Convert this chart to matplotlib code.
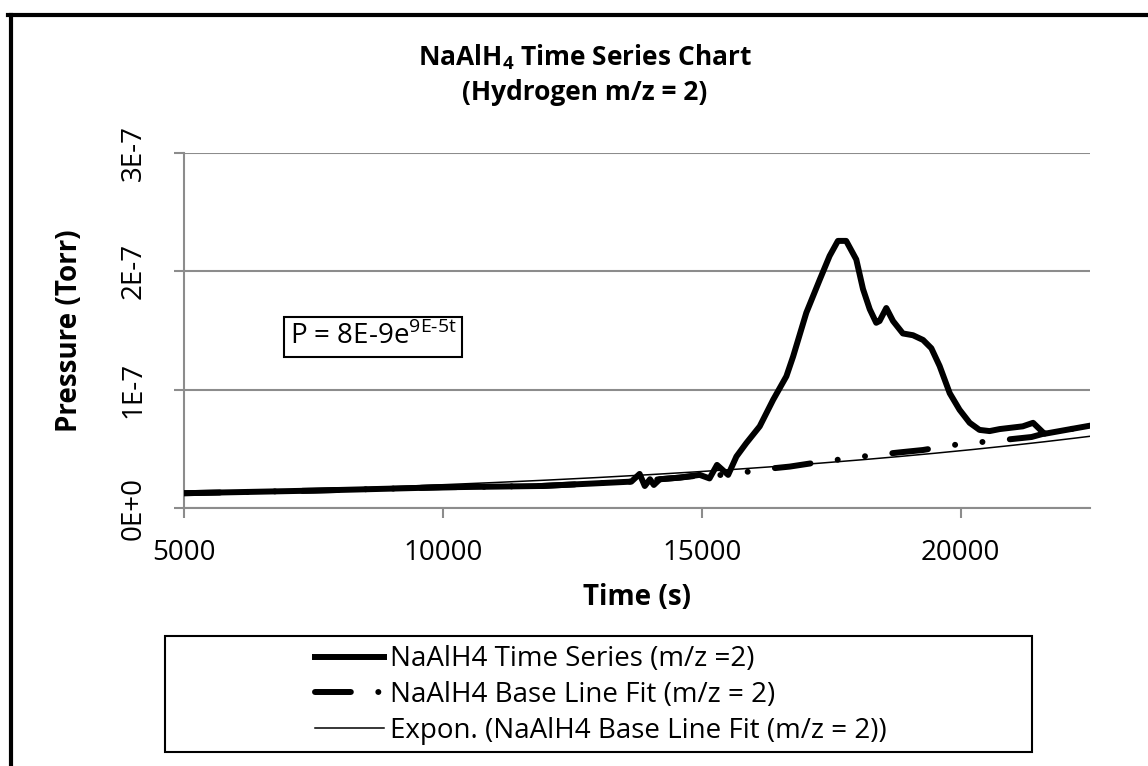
import numpy as np
import matplotlib.pyplot as plt
from matplotlib.lines import Line2D
from matplotlib.patches import Rectangle

plt.rcParams['font.family'] = ['Open Sans', 'DejaVu Sans']

# time series (s, Torr)
ts_time = [5000, 7500, 10000, 11900, 12800, 13640, 13800, 13900, 14000, 14075,
           14190, 14575, 14960, 15150, 15295, 15510, 15670, 15860, 16120, 16380,
           16635, 16765, 17020, 17280, 17470, 17630, 17790, 17985, 18115, 18245,
           18370, 18435, 18565, 18695, 18885, 19080, 19275, 19435, 19595, 19790,
           19980, 20175, 20365, 20560, 20755, 21200, 21400, 21620, 22040, 22555]
ts_pressure = np.array([0.125, 0.147, 0.175, 0.186, 0.205, 0.223, 0.288, 0.186, 0.243, 0.195,
                        0.243, 0.257, 0.280, 0.250, 0.364, 0.280, 0.435, 0.548, 0.690, 0.915,
                        1.113, 1.280, 1.650, 1.930, 2.130, 2.257, 2.257, 2.100, 1.850, 1.680,
                        1.565, 1.580, 1.690, 1.580, 1.475, 1.460, 1.420, 1.350, 1.200, 0.970,
                        0.830, 0.720, 0.660, 0.650, 0.667, 0.690, 0.720, 0.627, 0.660, 0.700]) * 1e-7

# base line (peak removed)
base_time = [5000, 7500, 10000, 11900, 12800, 13640, 14575, 14960, 15480, 16250,
             16700, 17150, 18000, 18400, 18820, 19270, 20120, 20500, 21370, 21620,
             22040, 22555]
base_pressure = np.array([0.125, 0.147, 0.175, 0.186, 0.205, 0.223, 0.257, 0.275, 0.280, 0.330,
                          0.350, 0.380, 0.430, 0.450, 0.470, 0.490, 0.550, 0.560, 0.600, 0.630,
                          0.660, 0.700]) * 1e-7

# exponential trendline shown on the chart: P = 8E-9 e^(9E-5 t)
fit_a = 8e-9
fit_k = 9e-5

x_ticks = [5000, 10000, 15000, 20000]
y_ticks = [0, 1e-7, 2e-7, 3e-7]
y_tick_labels = ['0E+0', '1E-7', '2E-7', '3E-7']

fig = plt.figure(figsize=(11.48, 7.66), dpi=100)
ax = fig.add_axes([0.1603, 0.3368, 0.7892, 0.4635])

grey = '#8c8c8c'

ax.plot(ts_time, ts_pressure, color='black', lw=4.3, solid_joinstyle='round',
        label='NaAlH4 Time Series (m/z =2)', zorder=3)
ax.plot(base_time, base_pressure, color='black', lw=4.3, dash_capstyle='round',
        linestyle=(0, (6.0, 4.6, 0.01, 4.6, 0.01, 4.6)),
        label='NaAlH4 Base Line Fit (m/z = 2)', zorder=3)
t_fit = np.linspace(5000, 22500, 200)
ax.plot(t_fit, fit_a * np.exp(fit_k * t_fit), color='black', lw=1.1,
        label='Expon. (NaAlH4 Base Line Fit (m/z = 2))', zorder=4)

ax.set_xlim(5000, 22500)
ax.set_ylim(0, 3e-7)
ax.set_xticks(x_ticks)
ax.set_xticklabels([str(v) for v in x_ticks])
ax.set_yticks(y_ticks)
ax.set_yticklabels(y_tick_labels, rotation=90, va='center')
ax.tick_params(axis='both', direction='out', length=7, width=1.5, color=grey,
               labelsize=20)
ax.tick_params(axis='y', pad=19)
ax.tick_params(axis='x', pad=15)
ax.grid(axis='y', color=grey, lw=1.5)
ax.set_axisbelow(True)
for side in ['top', 'right']:
    ax.spines[side].set_visible(False)
for side in ['left', 'bottom']:
    ax.spines[side].set_color(grey)
    ax.spines[side].set_linewidth(1.5)

ax.set_xlabel('Time (s)', fontsize=20, fontweight='bold', labelpad=12)
ax.set_ylabel('Pressure (Torr)', fontsize=20, fontweight='bold', labelpad=26)

ax.text(0.117, 0.482, 'P = 8E-9e$^{\\mathregular{9E\u20105t}}$', transform=ax.transAxes,
        fontsize=20, va='center', ha='left',
        bbox=dict(boxstyle='square,pad=0.2', fc='white', ec='black', lw=1.5))

fig.text(0.5096, 0.903, 'NaAlH$_\\mathregular{4}$ Time Series Chart\n(Hydrogen m/z = 2)',
         ha='center', va='center', fontsize=19, fontweight='bold', linespacing=1.35)

# legend with a fixed-size frame
ax.legend(loc='center left', bbox_to_anchor=(301 / 1148, 1 - 695 / 766),
          bbox_transform=fig.transFigure, frameon=False, fontsize=20,
          handlelength=2.5, handletextpad=0.2, borderpad=0, labelspacing=0.28)
fig.add_artist(Rectangle((165 / 1148, 1 - 752 / 766), (1032 - 165) / 1148, 116 / 766,
                         transform=fig.transFigure, fill=False, ec='black', lw=1.5))

# outer chart border (left and top edges)
fig.add_artist(Line2D([0.0092, 0.0092], [0, 0.981], transform=fig.transFigure,
                      color='black', lw=3))
fig.add_artist(Line2D([0.007, 1], [0.981, 0.981], transform=fig.transFigure,
                      color='black', lw=3))

plt.savefig('out.png', dpi=100)
